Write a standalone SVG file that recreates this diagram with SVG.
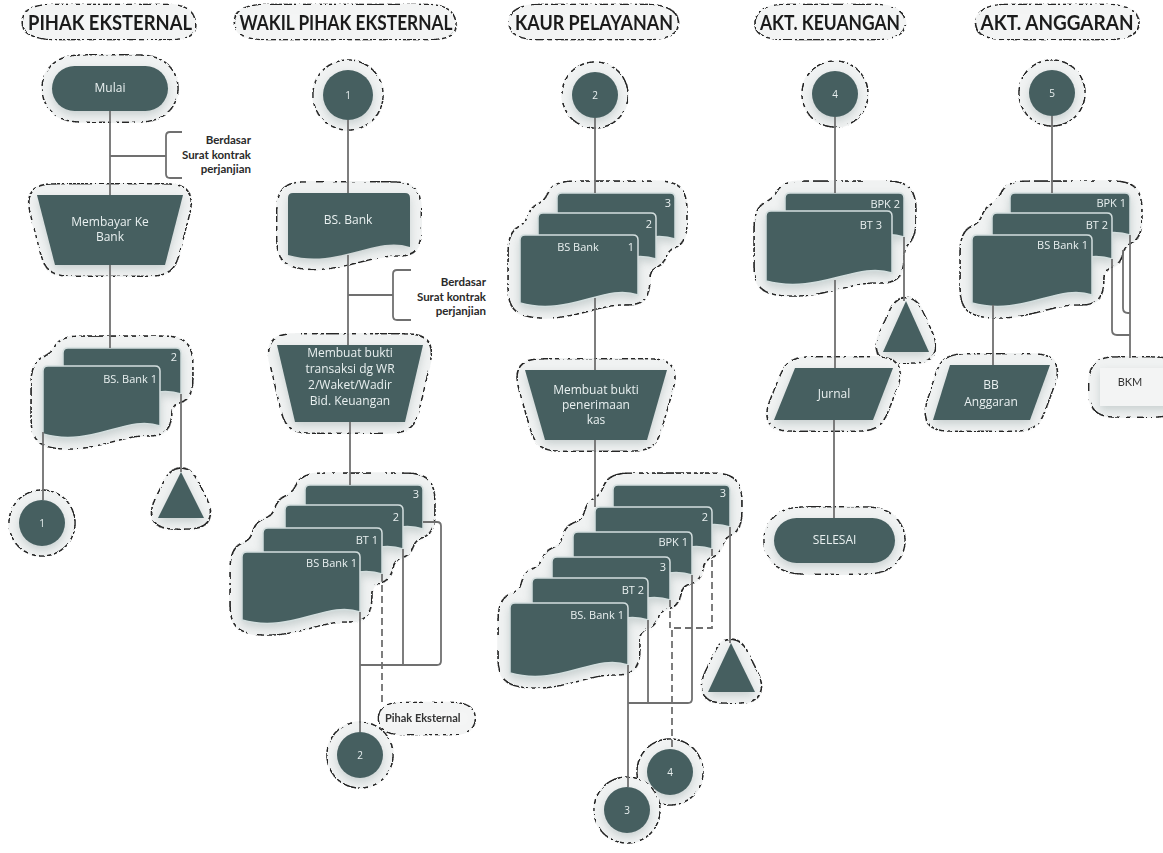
<svg xmlns="http://www.w3.org/2000/svg" width="1163" height="853" viewBox="0 0 1163 853">
<defs>
<style>
.n{fill:#465f60;}
.d{fill:#465f60;stroke:#d3dede;stroke-width:1.5;}
.t{font-family:"Open Sans","Liberation Sans",sans-serif;font-size:12px;fill:#e9f0f0;text-anchor:middle;}
.tl{font-family:"Open Sans","Liberation Sans",sans-serif;font-size:11px;fill:#e9f0f0;text-anchor:end;}
.tn{font-family:"Open Sans","Liberation Sans",sans-serif;font-size:10px;fill:#e9f0f0;text-anchor:middle;}
.h{font-family:Lato,"Liberation Sans",sans-serif;font-weight:bold;font-size:20px;fill:#1b1b1b;text-anchor:middle;}
.a{font-family:Lato,"Liberation Sans",sans-serif;font-weight:bold;font-size:11.5px;fill:#2a2a2a;text-anchor:end;}
.lb{font-family:Lato,"Liberation Sans",sans-serif;font-weight:bold;font-size:11px;fill:#333;}
.base{fill:#f4f5f5;}
.c{fill:none;stroke:#707070;stroke-width:1.8;}
.dash{stroke-dasharray:7 4;}
</style>
<filter id="halo" x="-50%" y="-50%" width="200%" height="200%" color-interpolation-filters="sRGB">
  <feGaussianBlur in="SourceAlpha" stdDeviation="8" result="b"/>
  <feComponentTransfer in="b" result="outer"><feFuncA type="linear" slope="60" intercept="-3"/></feComponentTransfer>
  <feComponentTransfer in="b" result="inner"><feFuncA type="linear" slope="60" intercept="-4.6"/></feComponentTransfer>
  <feComposite in="outer" in2="inner" operator="out" result="ring"/>
  <feTurbulence type="fractalNoise" baseFrequency="0.25" numOctaves="1" seed="7" result="noise"/>
  <feComponentTransfer in="noise" result="mask"><feFuncA type="discrete" tableValues="0 1"/></feComponentTransfer>
  <feComposite in="ring" in2="mask" operator="in" result="dash"/>
  <feFlood flood-color="#262626"/>
  <feComposite in2="dash" operator="in" result="dashC"/>
  <feFlood flood-color="#f0f2f2"/>
  <feComposite in2="outer" operator="in" result="fillC"/>
  <feGaussianBlur in="SourceAlpha" stdDeviation="4" result="sb"/>
  <feOffset in="sb" dy="4" result="so"/>
  <feFlood flood-color="#9aa8a8" flood-opacity="0.45"/>
  <feComposite in2="so" operator="in" result="shadow"/>
  <feMerge><feMergeNode in="fillC"/><feMergeNode in="shadow"/><feMergeNode in="dashC"/><feMergeNode in="SourceGraphic"/></feMerge>
</filter>
<filter id="haloH" x="-30%" y="-150%" width="160%" height="400%" color-interpolation-filters="sRGB">
  <feGaussianBlur in="SourceAlpha" stdDeviation="7" result="b"/>
  <feComponentTransfer in="b" result="outer"><feFuncA type="linear" slope="60" intercept="-3"/></feComponentTransfer>
  <feComponentTransfer in="b" result="inner"><feFuncA type="linear" slope="60" intercept="-4.6"/></feComponentTransfer>
  <feComposite in="outer" in2="inner" operator="out" result="ring"/>
  <feTurbulence type="fractalNoise" baseFrequency="0.25" numOctaves="1" seed="3" result="noise"/>
  <feComponentTransfer in="noise" result="mask"><feFuncA type="discrete" tableValues="0 1"/></feComponentTransfer>
  <feComposite in="ring" in2="mask" operator="in" result="dash"/>
  <feFlood flood-color="#262626"/>
  <feComposite in2="dash" operator="in" result="dashC"/>
  <feFlood flood-color="#f3f4f4"/>
  <feComposite in2="outer" operator="in" result="fillC"/>
  <feMerge><feMergeNode in="fillC"/><feMergeNode in="dashC"/><feMergeNode in="SourceGraphic"/></feMerge>
</filter>
</defs>
<rect width="1163" height="853" fill="#ffffff"/>

<!-- headers -->
<g id="hdr-pihak" filter="url(#haloH)"><rect class="base" x="36" y="14" width="148" height="16" rx="8"/><text class="h" x="110" y="30" textLength="164" lengthAdjust="spacingAndGlyphs">PIHAK EKSTERNAL</text></g>
<g id="hdr-wakil" filter="url(#haloH)"><rect class="base" x="248" y="14" width="196" height="16" rx="8"/><text class="h" x="346" y="30" textLength="213" lengthAdjust="spacingAndGlyphs">WAKIL PIHAK EKSTERNAL</text></g>
<g id="hdr-kaur" filter="url(#haloH)"><rect class="base" x="523" y="14" width="142" height="16" rx="8"/><text class="h" x="594" y="30" textLength="158" lengthAdjust="spacingAndGlyphs">KAUR PELAYANAN</text></g>
<g id="hdr-keu" filter="url(#haloH)"><rect class="base" x="768" y="14" width="124" height="16" rx="8"/><text class="h" x="830" y="30" textLength="140" lengthAdjust="spacingAndGlyphs">AKT. KEUANGAN</text></g>
<g id="hdr-ang" filter="url(#haloH)"><rect class="base" x="989" y="14" width="136" height="16" rx="8"/><text class="h" x="1057" y="30" textLength="153" lengthAdjust="spacingAndGlyphs">AKT. ANGGARAN</text></g>

<!-- column 1 -->
<g id="c1-mulai" filter="url(#halo)"><rect class="n" x="52" y="66" width="116" height="45" rx="22.5"/><text class="t" x="110" y="92">Mulai</text></g>
<g id="c1-bayar" filter="url(#halo)"><polygon class="n" points="37,195 183,195 165,265 55,265"/><text class="t" x="110" y="226">Membayar Ke</text><text class="t" x="110" y="241">Bank</text></g>
<g id="c1-docs" filter="url(#halo)">
<path class="d" d="M63,353 Q63,348 68,348 H176 Q181,348 181,353 V394 C148,382 112.6,416 63,402 Z"/><text class="tl" x="177" y="361">2</text>
<path class="d" d="M43,371 Q43,366 48,366 H155 Q160,366 160,371 V426 C127.2,414 92.1,448 43,434 Z"/><text class="tl" x="157" y="383">BS. Bank  1</text>
</g>
<g id="c1-conn1" filter="url(#halo)"><circle class="n" cx="42" cy="523" r="23"/><text class="tn" x="42" y="527">1</text></g>
<g id="c1-tri" filter="url(#halo)"><polygon class="n" points="181,472 204,518 158,518"/></g>
<g id="c1-note"><text class="a" x="251" y="144">Berdasar</text><text class="a" x="251" y="159">Surat kontrak</text><text class="a" x="251" y="173">perjanjian</text></g>

<!-- column 2 -->
<g id="c2-conn1" filter="url(#halo)"><circle class="n" cx="348" cy="95" r="25"/><text class="tn" x="348" y="99">1</text></g>
<g id="c2-bsbank" filter="url(#halo)"><path class="n" d="M288,198 Q288,193 293,193 H405 Q410,193 410,198 V247 C375.8,235 339.2,269 288,255 Z"/><text class="t" x="348" y="224">BS. Bank</text></g>
<g id="c2-buat" filter="url(#halo)"><polygon class="n" points="277,345 423,345 405,422 295,422"/>
<text class="t" x="350" y="357">Membuat bukti</text><text class="t" x="350" y="373">transaksi dg WR</text><text class="t" x="350" y="389">2/Waket/Wadir</text><text class="t" x="350" y="405">Bid. Keuangan</text></g>
<g id="c2-docs" filter="url(#halo)">
<path class="d" d="M305,490 Q305,485 310,485 H418 Q423,485 423,490 V529 C390,517 354.6,551 305,537 Z"/><text class="tl" x="419" y="498">3</text>
<path class="d" d="M285,510 Q285,505 290,505 H398 Q403,505 403,510 V549 C370,537 334.6,571 285,557 Z"/><text class="tl" x="399" y="521">2</text>
<path class="d" d="M263,533 Q263,528 268,528 H377 Q382,528 382,533 V574 C348.7,562 313,596 263,582 Z"/><text class="tl" x="378" y="544">BT  1</text>
<path class="d" d="M242,557 Q242,552 247,552 H355 Q360,552 360,557 V612 C327,600 291.6,634 242,620 Z"/><text class="tl" x="357" y="567">BS Bank 1</text>
</g>
<g id="c2-conn2" filter="url(#halo)"><circle class="n" cx="360" cy="755" r="23"/><text class="tn" x="360" y="759">2</text></g>
<g id="c2-label" filter="url(#haloH)"><rect class="base" x="386" y="712" width="82" height="13" rx="6"/><text class="lb" x="385" y="722">Pihak Eksternal</text></g>
<g id="c2-note"><text class="a" x="486" y="286">Berdasar</text><text class="a" x="486" y="301">Surat kontrak</text><text class="a" x="486" y="315">perjanjian</text></g>

<!-- column 3 -->
<g id="c3-conn2" filter="url(#halo)"><circle class="n" cx="595" cy="95" r="23"/><text class="tn" x="595" y="99">2</text></g>
<g id="c3-docs1" filter="url(#halo)">
<path class="d" d="M557,198 Q557,193 562,193 H670 Q675,193 675,198 V239 C642,227 606.6,261 557,247 Z"/><text class="tl" x="671" y="207">3</text>
<path class="d" d="M538,218 Q538,213 543,213 H651 Q656,213 656,218 V259 C623,247 587.6,281 538,267 Z"/><text class="tl" x="652" y="228">2</text>
<path class="d" d="M520,240 Q520,235 525,235 H633 Q638,235 638,240 V295 C605,283 569.6,317 520,303 Z"/><text class="tl" x="578" y="251" style="text-anchor:middle">BS Bank</text><text class="tl" x="634" y="251">1</text>
</g>
<g id="c3-kas" filter="url(#halo)"><polygon class="n" points="525,370 667,370 647,440 545,440"/>
<text class="t" x="596" y="394">Membuat bukti</text><text class="t" x="596" y="409">penerimaan</text><text class="t" x="596" y="424">kas</text></g>
<g id="c3-docs2" filter="url(#halo)">
<path class="d" d="M613,490 Q613,485 618,485 H725 Q730,485 730,490 V527 C697.2,515 662.1,549 613,535 Z"/><text class="tl" x="726" y="497">3</text>
<path class="d" d="M595,512 Q595,507 600,507 H707 Q712,507 712,512 V549 C679.2,537 644.1,571 595,557 Z"/><text class="tl" x="708" y="521">2</text>
<path class="d" d="M573,537 Q573,532 578,532 H687 Q692,532 692,537 V575 C658.7,563 623,597 573,583 Z"/><text class="tl" x="688" y="546">BPK  1</text>
<path class="d" d="M552,562 Q552,557 557,557 H665 Q670,557 670,562 V600 C637,588 601.6,622 552,608 Z"/><text class="tl" x="666" y="571">3</text>
<path class="d" d="M532,583 Q532,578 537,578 H643 Q648,578 648,583 V620 C615.5,608 580.7,642 532,628 Z"/><text class="tl" x="644" y="594">BT 2</text>
<path class="d" d="M510,608 Q510,603 515,603 H623 Q628,603 628,608 V665 C595,653 559.6,687 510,673 Z"/><text class="tl" x="624" y="619">BS. Bank 1</text>
</g>
<g id="c3-tri" filter="url(#halo)"><polygon class="n" points="731,643 755,692 708,692"/></g>
<g id="c3-conn4" filter="url(#halo)"><circle class="n" cx="670" cy="772" r="23"/><text class="tn" x="670" y="776">4</text></g>
<g id="c3-conn3" filter="url(#halo)"><circle class="n" cx="627" cy="810" r="23"/><text class="tn" x="627" y="814">3</text></g>

<!-- column 4 -->
<g id="c4-conn4" filter="url(#halo)"><circle class="n" cx="835" cy="94" r="23"/><text class="tn" x="835" y="98">4</text></g>
<g id="c4-docs" filter="url(#halo)">
<path class="d" d="M785,198 Q785,193 790,193 H899 Q904,193 904,198 V237 C870.7,225 835,259 785,245 Z"/><text class="tl" x="900" y="208">BPK  2</text>
<path class="d" d="M766,216 Q766,211 771,211 H887 Q892,211 892,216 V273 C856.7,261 818.9,295 766,281 Z"/><text class="tl" x="882" y="229">BT  3</text>
</g>
<g id="c4-tri" filter="url(#halo)"><polygon class="n" points="906,301 929,352 883,352"/></g>
<g id="c4-jurnal" filter="url(#halo)"><polygon class="n" points="795,368 893,368 873,420 774,420"/><text class="t" x="834" y="398">Jurnal</text></g>
<g id="c4-selesai" filter="url(#halo)"><rect class="n" x="774" y="518" width="121" height="45" rx="22.5"/><text class="t" x="834.5" y="544">SELESAI</text></g>

<!-- column 5 -->
<g id="c5-conn5" filter="url(#halo)"><circle class="n" cx="1052" cy="93" r="23"/><text class="tn" x="1052" y="97">5</text></g>
<g id="c5-docs" filter="url(#halo)">
<path class="d" d="M1010,198 Q1010,193 1015,193 H1125 Q1130,193 1130,198 V235 C1096.4,223 1060.4,257 1010,243 Z"/><text class="tl" x="1126" y="207">BPK  1</text>
<path class="d" d="M992,218 Q992,213 997,213 H1107 Q1112,213 1112,218 V259 C1078.4,247 1042.4,281 992,267 Z"/><text class="tl" x="1108" y="229">BT  2</text>
<path class="d" d="M972,240 Q972,235 977,235 H1087 Q1092,235 1092,240 V295 C1058.4,283 1022.4,317 972,303 Z"/><text class="tl" x="1088" y="249">BS Bank  1</text>
</g>
<g id="c5-bb" filter="url(#halo)"><polygon class="n" points="950,365 1050,365 1030,420 933,420"/><text class="t" x="991" y="389">BB</text><text class="t" x="991" y="406">Anggaran</text></g>
<g id="c5-bkm" filter="url(#halo)"><rect x="1100" y="368" width="70" height="38" fill="#f3f4f4"/><text class="lb" x="1130" y="386" style="text-anchor:middle;font-weight:normal">BKM</text></g>

<!-- connectors -->
<g id="connectors">
<path class="c" d="M110,111 V195"/>
<path class="c" d="M110,156 H166"/>
<path class="c" d="M182,132 H170 Q166,132 166,136 V174 Q166,178 170,178 H182"/>
<path class="c" d="M110,265 V348"/>
<path class="c" d="M43,432 V500"/>
<path class="c" d="M181,394 V472"/>

<path class="c" d="M348,120 V193"/>
<path class="c" d="M348,255 V345"/>
<path class="c" d="M348,295 H393"/>
<path class="c" d="M411,270 H397 Q393,270 393,274 V316 Q393,320 397,320 H411"/>
<path class="c" d="M350,422 V485"/>
<path class="c" d="M360,612 V732"/>
<path class="c" d="M403,549 V665"/>
<path class="c" d="M360,665 H437 Q441,665 441,661 V526 Q441,522 437,522 H423"/>
<path class="c dash" d="M382,574 V703"/>

<path class="c" d="M595,118 V193"/>
<path class="c" d="M595,298 V370"/>
<path class="c" d="M595,440 V507"/>
<path class="c" d="M628,665 V787"/>
<path class="c" d="M648,620 V703"/>
<path class="c" d="M628,703 H688 Q692,703 692,699 V575"/>
<path class="c dash" d="M712,549 V628 H672 V749"/>
<path class="c dash" d="M670,600 V628"/>
<path class="c" d="M730,527 V643"/>

<path class="c" d="M835,117 V193"/>
<path class="c" d="M835,280 V368"/>
<path class="c" d="M904,237 V301"/>
<path class="c" d="M834,420 V518"/>

<path class="c" d="M1052,116 V193"/>
<path class="c" d="M993,305 V365"/>
<path class="c" d="M1130,235 V358"/>
<path class="c" d="M1112,259 V330 Q1112,335 1117,335 H1130"/>
<path class="c" d="M1123,250 V308 Q1123,313 1128,313 H1130"/>
</g>
</svg>
